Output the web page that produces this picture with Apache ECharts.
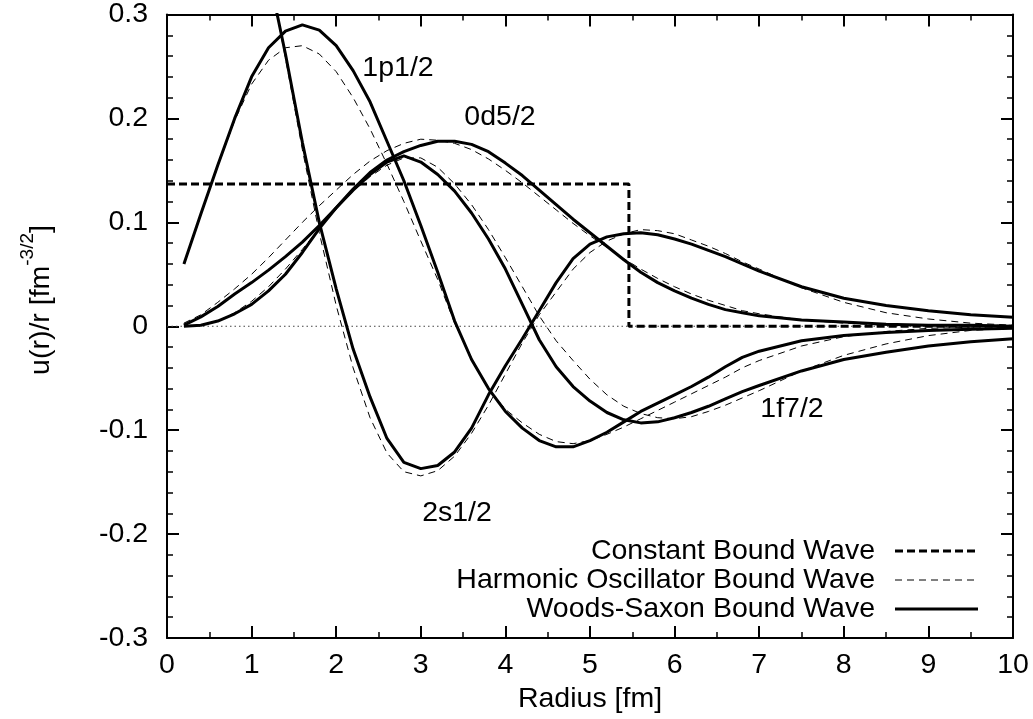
<!DOCTYPE html>
<html><head><meta charset="utf-8">
<script src="https://cdn.jsdelivr.net/npm/echarts@6/dist/echarts.min.js"></script>
<style>html,body{margin:0;padding:0;background:#fff}#c{width:1033px;height:719px}</style>
</head><body><div id="c"></div>
<script>
// Radius grid [fm]
const radius = [0.2,0.4,0.6,0.8,1.0,1.2,1.4,1.6,1.8,2.0,2.2,2.4,2.6,2.8,3.0,3.2,3.4,3.6,3.8,4.0,4.2,4.4,4.6,4.8,5.0,5.2,5.4,5.6,5.8,6.0,6.2,6.4,6.6,6.8,7.0,7.5,8.0,8.5,9.0,9.5,10.0];

// Woods-Saxon bound waves u(r)/r
const ws2s = [0.56,0.55,0.52,0.47,0.41,0.34,0.262,0.177,0.100,0.036,-0.022,-0.068,-0.108,-0.131,-0.137,-0.134,-0.121,-0.098,-0.066,-0.038,-0.012,0.015,0.042,0.065,0.079,0.086,0.089,0.090,0.088,0.084,0.079,0.073,0.067,0.060,0.053,0.038,0.027,0.020,0.015,0.011,0.0086];
const ws1p = [0.060,0.108,0.155,0.200,0.240,0.268,0.284,0.290,0.285,0.270,0.246,0.216,0.178,0.140,0.097,0.052,0.005,-0.032,-0.060,-0.082,-0.098,-0.110,-0.116,-0.116,-0.110,-0.102,-0.092,-0.082,-0.074,-0.066,-0.058,-0.049,-0.039,-0.030,-0.024,-0.014,-0.009,-0.006,-0.004,-0.003,-0.002];
const ws0d = [0.001,0.009,0.019,0.031,0.042,0.054,0.067,0.081,0.097,0.114,0.132,0.148,0.160,0.168,0.174,0.178,0.178,0.175,0.168,0.157,0.145,0.131,0.117,0.103,0.090,0.077,0.064,0.052,0.042,0.034,0.027,0.021,0.016,0.013,0.010,0.006,0.004,0.002,0.001,0.001,0.000];
const ws1f = [0.000,0.001,0.005,0.012,0.021,0.034,0.050,0.071,0.094,0.114,0.131,0.146,0.158,0.164,0.158,0.146,0.130,0.109,0.084,0.055,0.021,-0.013,-0.039,-0.058,-0.072,-0.083,-0.090,-0.093,-0.092,-0.088,-0.083,-0.077,-0.070,-0.063,-0.057,-0.043,-0.032,-0.025,-0.019,-0.015,-0.012];

// Harmonic oscillator bound waves u(r)/r
const ho2s = [0.58,0.57,0.54,0.49,0.42,0.343,0.258,0.170,0.090,0.020,-0.040,-0.088,-0.122,-0.140,-0.144,-0.139,-0.125,-0.103,-0.076,-0.046,-0.016,0.011,0.033,0.055,0.071,0.082,0.089,0.093,0.092,0.089,0.083,0.077,0.070,0.062,0.055,0.037,0.023,0.013,0.007,0.003,0.001];
const ho1p = [0.060,0.108,0.154,0.198,0.233,0.256,0.268,0.270,0.262,0.245,0.220,0.190,0.156,0.120,0.082,0.045,0.003,-0.031,-0.060,-0.080,-0.093,-0.104,-0.111,-0.113,-0.110,-0.104,-0.097,-0.089,-0.081,-0.073,-0.065,-0.057,-0.049,-0.040,-0.033,-0.019,-0.010,-0.005,-0.002,-0.001,0.000];
const ho0d = [0.003,0.011,0.023,0.036,0.050,0.066,0.083,0.100,0.116,0.131,0.146,0.159,0.169,0.176,0.180,0.179,0.176,0.170,0.161,0.150,0.138,0.125,0.112,0.099,0.087,0.076,0.065,0.055,0.046,0.038,0.031,0.025,0.020,0.015,0.012,0.006,0.003,0.001,0.0005,0.0,0.0];
const ho1f = [0.000,0.001,0.005,0.013,0.024,0.038,0.055,0.074,0.094,0.113,0.130,0.144,0.155,0.162,0.162,0.153,0.137,0.117,0.093,0.066,0.038,0.010,-0.014,-0.033,-0.051,-0.066,-0.077,-0.084,-0.088,-0.089,-0.087,-0.082,-0.076,-0.069,-0.062,-0.043,-0.028,-0.017,-0.009,-0.004,-0.002];

// Constant bound wave (step)
const constRadius = [0, 5.46, 5.46, 10];
const constValue  = [0.137, 0.137, 0, 0];

// Tick settings
const xTicks = {min: 0, max: 10, interval: 1};
const yTicks = {min: -0.3, max: 0.3, interval: 0.1};

const seriesNames = ['Constant Bound Wave', 'Harmonic Oscillator Bound Wave', 'Woods-Saxon Bound Wave'];
const curveLabels = ['1p1/2', '0d5/2', '2s1/2', '1f7/2'];

const FF = '"Liberation Sans", Arial, Helvetica, sans-serif';
const FS = 28.5;

function pts(xs, ys){ return xs.map((x,i)=>[x, ys[i]]); }

const chart = echarts.init(document.getElementById('c'), null, {renderer:'canvas'});

function axisBase(extra){
  return Object.assign({
    type:'value',
    axisLine:{show:true, onZero:false, lineStyle:{color:'#000', width:2}},
    axisTick:{show:true, inside:true, length:12, lineStyle:{color:'#000', width:2}},
    minorTick:{show:true, length:6, lineStyle:{color:'#000', width:1.5}},
    splitLine:{show:false}, minorSplitLine:{show:false}
  }, extra);
}

const labelStyle = {fontSize:FS, fontFamily:FF, color:'#000'};

const hoStyle = {color:'#000', width:1, type:[7,5]};
const wsStyle = {color:'#000', width:3};

function lineSeries(name, data, lineStyle, z){
  return {type:'line', name, data, showSymbol:false, symbol:'none', lineStyle, itemStyle:{color:'#000'}, z:z||2, silent:true, animation:false};
}

const series = [
  {type:'line', name:'zero', data:pts([0,10],[0,0]), symbol:'none', lineStyle:{color:'#444', width:1, type:[1.5,3]}, silent:true, z:1},
  lineSeries(seriesNames[0], pts(constRadius, constValue), {color:'#000', width:3, type:[8,4]}, 3),
  lineSeries(seriesNames[1], pts(radius, ho2s), hoStyle),
  lineSeries(seriesNames[1], pts(radius, ho1p), hoStyle),
  lineSeries(seriesNames[1], pts(radius, ho0d), hoStyle),
  lineSeries(seriesNames[1], pts(radius, ho1f), hoStyle),
  lineSeries(seriesNames[2], pts(radius, ws2s), wsStyle, 4),
  lineSeries(seriesNames[2], pts(radius, ws1p), wsStyle, 4),
  lineSeries(seriesNames[2], pts(radius, ws0d), wsStyle, 4),
  lineSeries(seriesNames[2], pts(radius, ws1f), wsStyle, 4)
];

function txt(x, y, text, align){
  return {type:'text', x, y, z:10, style:{text, fill:'#000', font: FS + 'px ' + FF, fontSize:FS, fontFamily:FF, textAlign:align||'center', textVerticalAlign:'middle', align:align||'center', verticalAlign:'middle'}};
}
function legLine(y, lw, dash){
  return {type:'line', z:10, shape:{x1:895, y1:y, x2:978, y2:y}, style:{stroke:'#000', lineWidth:lw, lineDash:dash}};
}

const graphic = [
  txt(398, 68, curveLabels[0]),
  txt(500, 117, curveLabels[1]),
  txt(457, 513, curveLabels[2]),
  txt(792, 409, curveLabels[3]),
  txt(875, 551, seriesNames[0], 'right'),
  txt(875, 580, seriesNames[1], 'right'),
  txt(875, 609, seriesNames[2], 'right'),
  legLine(551, 3, [8,4]),
  legLine(580, 1, [7,5]),
  legLine(609, 3, null),
  {type:'text', x:37, y:300, rotation:Math.PI/2, z:10, style:{
    text:'{m|u(r)/r [fm}{s|-3/2}{m|]}', fill:'#000',
    textAlign:'center', textVerticalAlign:'middle', align:'center', verticalAlign:'middle',
    rich:{
      m:{fontSize:FS, fontFamily:FF, fill:'#000', color:'#000', lineHeight:38, verticalAlign:'bottom'},
      s:{fontSize:19, fontFamily:FF, fill:'#000', color:'#000', lineHeight:19, verticalAlign:'top'}
    }
  }}
];

chart.setOption({
  animation:false,
  backgroundColor:'#fff',
  grid:{left:167, right:20, top:12, bottom:81, containLabel:false},
  xAxis:[
    axisBase(Object.assign({position:'bottom', minorTick:{show:true, splitNumber:2, length:6, lineStyle:{color:'#000', width:1.5}},
      axisLabel:Object.assign({margin:13}, labelStyle),
      name:'Radius [fm]', nameLocation:'middle', nameGap:47, nameTextStyle:labelStyle}, xTicks)),
    axisBase(Object.assign({position:'top', minorTick:{show:true, splitNumber:2, length:6, lineStyle:{color:'#000', width:1.5}},
      axisLabel:{show:false}}, xTicks))
  ],
  yAxis:[
    axisBase(Object.assign({position:'left', minorTick:{show:true, splitNumber:5, length:6, lineStyle:{color:'#000', width:1.5}},
      axisLabel:Object.assign({margin:19}, labelStyle)}, yTicks)),
    axisBase(Object.assign({position:'right', minorTick:{show:true, splitNumber:5, length:6, lineStyle:{color:'#000', width:1.5}},
      axisLabel:{show:false}}, yTicks))
  ],
  series,
  graphic
});
</script>
</body></html>
